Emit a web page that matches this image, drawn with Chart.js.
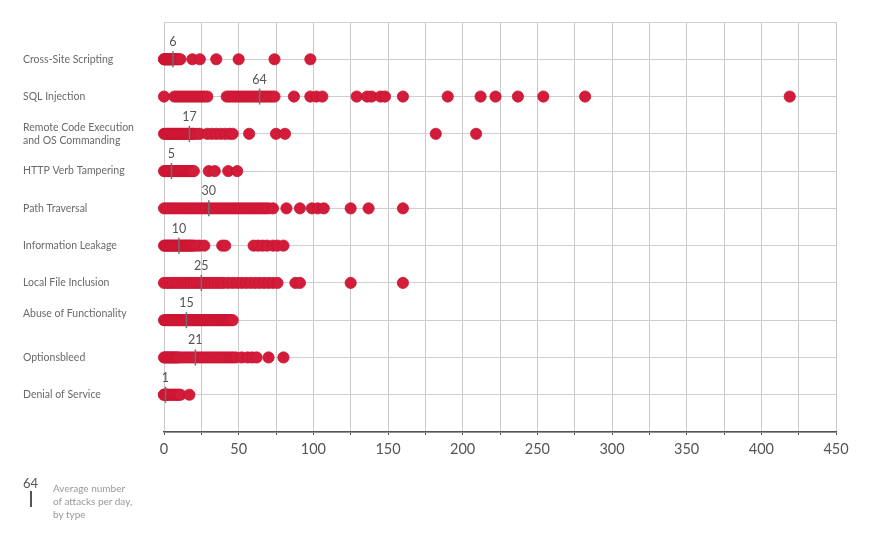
<!DOCTYPE html>
<html>
<head>
<meta charset="utf-8">
<script src="https://cdn.jsdelivr.net/npm/chart.js@4/dist/chart.umd.min.js"></script>
<style>
  html, body { margin: 0; padding: 0; background: #fff; }
  #wrap { position: relative; width: 890px; height: 539px; }
  #note-num { position: absolute; left: 23px; top: 475px; font: 13px Lato, sans-serif; color: #555; }
  #note-bar { position: absolute; left: 30px; top: 491px; width: 1.5px; height: 16px; background: #555; }
  #note-text { position: absolute; left: 53px; top: 482px; font: 10px Lato, sans-serif; line-height: 13px; color: #999; }
</style>
</head>
<body>
<div id="wrap">
  <canvas id="strip" width="890" height="539"></canvas>
  <div id="note-num">64</div>
  <div id="note-bar"></div>
  <div id="note-text">Average number<br>of attacks per day,<br>by type</div>
</div>
<script>
var categories = [
  'Cross-Site Scripting',
  'SQL Injection',
  ['Remote Code Execution', 'and OS Commanding'],
  'HTTP Verb Tampering',
  'Path Traversal',
  'Information Leakage',
  'Local File Inclusion',
  ['Abuse of Functionality', ''],
  'Optionsbleed',
  'Denial of Service'
];

// attacks per day, one array per attack type
var xss = [0, 0, 1, 1, 2, 2, 3, 3, 4, 4, 5, 5, 6, 6, 7, 8, 9, 10, 11, 19, 24, 35, 50, 74, 98];
var sqli = [0, 7, 9, 11, 13, 15, 17, 19, 21, 23, 25, 27, 29, 42, 44, 46, 48, 50, 52, 54, 56, 58, 60, 62, 64, 66, 68, 70, 72, 74,
  87, 98, 102, 106, 129, 136, 139, 145, 148, 160, 190, 212, 222, 237, 254, 282, 419];
var rce = [0, 1, 2, 3, 4, 5, 6, 7, 8, 9, 10, 11, 12, 13, 14, 15, 16, 17, 18, 19, 20, 22, 24, 29, 32, 35, 38, 41, 44, 46, 57, 75, 81, 182, 209];
var verb = [0, 1, 2, 3, 4, 5, 6, 7, 8, 9, 10, 11, 12, 13, 14, 15, 16, 17, 18, 19, 20, 30, 34, 43, 49];
var traversal = [0, 2, 4, 6, 8, 10, 12, 14, 16, 18, 20, 22, 24, 26, 28, 30, 32, 34, 36, 38, 40, 42, 44, 46, 48, 50, 52, 54, 56, 58,
  60, 62, 64, 66, 68, 70, 73, 82, 91, 99, 103, 107, 125, 137, 160];
var leakage = [0, 1, 2, 3, 4, 5, 6, 7, 8, 9, 10, 11, 12, 13, 14, 15, 16, 17, 18, 19, 20, 22, 24, 27, 39, 41, 60, 63, 66, 69, 73, 76, 80];
var lfi = [0, 2, 4, 6, 8, 10, 12, 14, 16, 18, 20, 22, 24, 26, 28, 30, 32, 34, 36, 38, 40, 43, 46, 49, 52, 55, 58, 61, 64, 67,
  70, 73, 76, 88, 91, 125, 160];
var abuse = [0, 1, 2, 3, 4, 5, 6, 7, 8, 9, 10, 11, 12, 13, 14, 15, 16, 17, 18, 19, 20, 21, 22, 23, 24, 25, 26, 27, 28, 29, 30,
  31, 32, 33, 34, 35, 36, 37, 38, 39, 40, 41, 42, 43, 44, 45, 46];
var optionsbleed = [0, 1, 2, 3, 4, 5, 6, 7, 8, 9, 10, 12, 14, 16, 18, 20, 22, 24, 26, 28, 30, 32, 34, 36, 38, 40, 42, 44, 46, 48,
  52, 56, 59, 62, 70, 80];
var dos = [0, 0, 1, 1, 2, 2, 3, 4, 5, 6, 7, 8, 9, 10, 11, 17];

var series = [xss, sqli, rce, verb, traversal, leakage, lfi, abuse, optionsbleed, dos];
var averages = [6, 64, 17, 5, 30, 10, 25, 15, 21, 1];

var xTicks = [0, 50, 100, 150, 200, 250, 300, 350, 400, 450];

var dots = [];
series.forEach(function (vals, i) {
  vals.forEach(function (v) { dots.push({ x: v, y: i + 1 }); });
});
var avgPoints = averages.map(function (v, i) { return { x: v, y: i + 1 }; });

var avgLabels = {
  id: 'avgLabels',
  afterDatasetsDraw: function (chart) {
    var c = chart.ctx;
    c.save();
    c.font = '12.5px Lato, sans-serif';
    c.fillStyle = '#555';
    c.textAlign = 'center';
    c.textBaseline = 'middle';
    averages.forEach(function (v, i) {
      c.fillText(String(v), chart.scales.x.getPixelForValue(v), chart.scales.y.getPixelForValue(i + 1) - 17);
    });
    c.restore();
  }
};

var ctx = document.getElementById('strip').getContext('2d');
var chart = new Chart(ctx, {
  type: 'scatter',
  data: {
    datasets: [{
      data: avgPoints,
      pointStyle: 'line',
      rotation: 90,
      radius: 8,
      borderColor: '#6f6f6f',
      borderWidth: 1.5,
      clip: false,
      order: 0
    }, {
      data: dots,
      radius: 5.6,
      backgroundColor: '#d31b3a',
      borderColor: '#c8142f',
      borderWidth: 0.8,
      clip: false,
      order: 1
    }]
  },
  options: {
    responsive: false,
    animation: false,
    layout: { padding: { left: 23, right: 54, top: 22, bottom: 67 } },
    plugins: { legend: { display: false }, tooltip: { enabled: false } },
    scales: {
      x: {
        type: 'linear',
        min: 0,
        max: 450,
        afterFit: function (s) { s.height = 40; },
        ticks: {
          stepSize: 25,
          color: '#555',
          font: { family: 'Lato', size: 14.5 },
          padding: 6,
          callback: function (v) { return xTicks.indexOf(v) >= 0 ? String(v) : ''; }
        },
        grid: { color: '#c9c9c9', tickColor: '#555', tickLength: 3, lineWidth: 1 },
        border: { color: '#555', width: 1.5 }
      },
      y: {
        type: 'linear',
        min: 0,
        max: 11,
        reverse: true,
        afterFit: function (s) { s.width = 141; },
        ticks: {
          stepSize: 1,
          crossAlign: 'far',
          color: '#6a6a6a',
          font: { family: 'Lato', size: 10.5 },
          callback: function (v) { return categories[v - 1] || ''; }
        },
        grid: { color: '#cfcfcf', drawTicks: false },
        border: { display: false }
      }
    }
  },
  plugins: [avgLabels]
});
</script>
</body>
</html>
